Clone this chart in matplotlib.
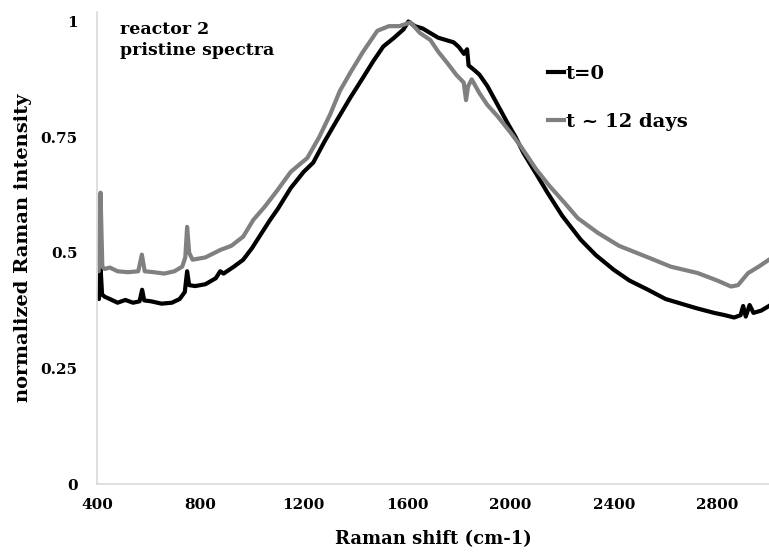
import matplotlib
matplotlib.use("Agg")
import matplotlib.pyplot as plt

# spectra (Raman shift in cm-1, normalized intensity)
shift_t0 = [400, 408, 414, 420, 430, 450, 480, 510, 540, 565, 575, 583, 610, 650, 690,
            720, 740, 749, 757, 780, 820, 860, 877, 890, 930, 966, 1000, 1040, 1070,
            1100, 1150, 1200, 1237, 1280, 1330, 1380, 1431, 1470, 1508, 1550, 1586,
            1605, 1630, 1660, 1690, 1720, 1750, 1780, 1800, 1820, 1832, 1838, 1860,
            1880, 1911, 1950, 1989, 2020, 2050, 2100, 2143, 2200, 2272, 2330, 2400,
            2460, 2532, 2600, 2660, 2720, 2788, 2830, 2865, 2890, 2900, 2910, 2925,
            2940, 2970, 3000]
int_t0 = [0.405, 0.40, 0.47, 0.41, 0.405, 0.40, 0.392, 0.398, 0.392, 0.395, 0.42, 0.397,
          0.395, 0.39, 0.392, 0.40, 0.415, 0.46, 0.43, 0.428, 0.432, 0.445, 0.46, 0.455,
          0.47, 0.485, 0.51, 0.545, 0.571, 0.595, 0.64, 0.675, 0.695, 0.74, 0.788, 0.835,
          0.88, 0.915, 0.946, 0.965, 0.983, 1.0, 0.99, 0.985, 0.975, 0.965, 0.96, 0.955,
          0.945, 0.93, 0.94, 0.905, 0.895, 0.885, 0.86, 0.82, 0.78, 0.75, 0.716, 0.67,
          0.63, 0.58, 0.528, 0.495, 0.463, 0.44, 0.42, 0.40, 0.39, 0.38, 0.37, 0.365,
          0.36, 0.365, 0.385, 0.362, 0.387, 0.37, 0.375, 0.385]

shift_t12 = [400, 407, 414, 421, 430, 450, 480, 520, 560, 574, 585, 620, 660, 700, 730,
             742, 749, 757, 770, 820, 877, 920, 966, 1005, 1050, 1098, 1150, 1214, 1260,
             1303, 1340, 1381, 1430, 1485, 1530, 1570, 1613, 1650, 1690, 1720, 1756,
             1790, 1819, 1828, 1836, 1850, 1880, 1910, 1950, 2000, 2040, 2100, 2150,
             2206, 2260, 2338, 2420, 2532, 2620, 2725, 2800, 2853, 2880, 2919, 2960, 3000]
int_t12 = [0.463, 0.46, 0.63, 0.47, 0.465, 0.468, 0.46, 0.458, 0.46, 0.496, 0.46, 0.458,
           0.455, 0.46, 0.47, 0.49, 0.556, 0.50, 0.485, 0.49, 0.506, 0.515, 0.535, 0.571,
           0.60, 0.635, 0.675, 0.705, 0.75, 0.80, 0.85, 0.89, 0.935, 0.98, 0.99, 0.99,
           0.998, 0.975, 0.96, 0.935, 0.91, 0.885, 0.868, 0.83, 0.86, 0.875, 0.845, 0.82,
           0.795, 0.76, 0.73, 0.68, 0.645, 0.61, 0.575, 0.543, 0.515, 0.49, 0.47, 0.456,
           0.44, 0.427, 0.43, 0.456, 0.47, 0.485]

xticks = [400, 800, 1200, 1600, 2000, 2400, 2800]
yticks = [0, 0.25, 0.5, 0.75, 1]
ytick_labels = ["0", "0.25", "0.5", "0.75", "1"]

plt.rcParams['font.family'] = ['DejaVu Serif']
plt.rcParams['font.weight'] = 'bold'

fig = plt.figure(figsize=(7.69, 5.57), dpi=100)
ax = fig.add_axes([0.126, 0.131, 0.874, 0.847])

ax.plot(shift_t0, int_t0, color='black', lw=3, label='t=0', solid_joinstyle='round')
ax.plot(shift_t12, int_t12, color='#808080', lw=3, label='t ~ 12 days', solid_joinstyle='round')

ax.set_xlim(400, 3000)
ax.set_ylim(0, 1.02)
ax.set_xticks(xticks)
ax.set_xticklabels([str(t) for t in xticks], fontsize=11, fontweight='bold')
ax.set_yticks(yticks)
ax.set_yticklabels(ytick_labels, fontsize=11, fontweight='bold')
ax.tick_params(axis='both', length=0)
ax.tick_params(axis='x', pad=10)
ax.tick_params(axis='y', pad=14)

for side in ['top', 'right']:
    ax.spines[side].set_visible(False)
for side in ['left', 'bottom']:
    ax.spines[side].set_color('#d9d9d9')
    ax.spines[side].set_linewidth(1.2)

ax.set_xlabel('Raman shift (cm-1)', fontsize=13, fontweight='bold', labelpad=13)
ax.set_ylabel('normalized Raman intensity', fontsize=14, fontweight='bold', labelpad=6)

fig.text(0.156, 0.963, 'reactor 2\npristine spectra', fontsize=12.5, fontweight='bold',
         va='top', ha='left', linespacing=1.35)

ax.legend(loc='upper left', bbox_to_anchor=(0.69, 0.915), bbox_transform=fig.transFigure,
          frameon=False, handlelength=0.8, handletextpad=0.1, labelspacing=1.55,
          prop={'size': 14, 'weight': 'bold'})

fig.savefig('out.png', dpi=100)
